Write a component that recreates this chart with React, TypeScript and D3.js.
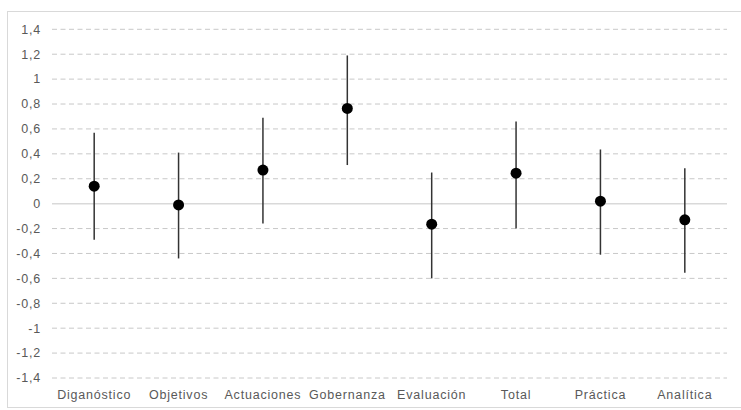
import React from "react";
import * as d3 from "d3";

const categories = ["Diganóstico", "Objetivos", "Actuaciones", "Gobernanza", "Evaluación", "Total", "Práctica", "Analítica"];
const means = [0.14, -0.01, 0.27, 0.765, -0.165, 0.245, 0.02, -0.13];
const lower = [-0.29, -0.44, -0.16, 0.31, -0.6, -0.2, -0.41, -0.555];
const upper = [0.57, 0.41, 0.69, 1.19, 0.25, 0.66, 0.435, 0.285];
const yTicks = [1.4, 1.2, 1, 0.8, 0.6, 0.4, 0.2, 0, -0.2, -0.4, -0.6, -0.8, -1, -1.2, -1.4];

const W = 741;
const H = 410;
const plot = { left: 52, right: 727, top: 29.3, bottom: 378 };

export default function App() {
  const x = d3.scaleBand<string>().domain(categories).range([plot.left, plot.right]);
  const y = d3.scaleLinear().domain([-1.4, 1.4]).range([plot.bottom, plot.top]);
  const fmt = (v: number) => String(Math.round(v * 10) / 10).replace(".", ",");
  const font = "'Liberation Sans', Arial, sans-serif";

  return (
    <svg width={W} height={H} style={{ position: "absolute", left: 0, top: 0 }}>
      <rect x={0} y={0} width={W} height={H} fill="#fff" />
      <rect x={7.5} y={11.5} width={740} height={396} fill="#fff" stroke="#d9d9d9" strokeWidth={1} />
      {yTicks.map((t) => (
        <g key={t}>
          <line
            x1={plot.left}
            x2={plot.right}
            y1={y(t)}
            y2={y(t)}
            stroke={t === 0 ? "#d9d9d9" : "#c8c8c8"}
            strokeWidth={t === 0 ? 1.5 : 1}
            strokeDasharray={t === 0 ? undefined : "5,3.5"}
          />
          <text
            x={41}
            y={y(t)}
            dy="0.35em"
            textAnchor="end"
            fontFamily={font}
            fontSize={12.5}
            letterSpacing={0.8}
            fill="#595959"
          >
            {fmt(t)}
          </text>
        </g>
      ))}
      {categories.map((c, i) => {
        const cx = (x(c) as number) + x.bandwidth() / 2;
        return (
          <g key={c}>
            <line x1={cx} x2={cx} y1={y(upper[i])} y2={y(lower[i])} stroke="#333" strokeWidth={1.5} />
            <circle cx={cx} cy={y(means[i])} r={5.5} fill="#000" />
            <text
              x={cx}
              y={395}
              dy="0.35em"
              textAnchor="middle"
              fontFamily={font}
              fontSize={12.5}
              letterSpacing={0.8}
              fill="#595959"
            >
              {c}
            </text>
          </g>
        );
      })}
    </svg>
  );
}
